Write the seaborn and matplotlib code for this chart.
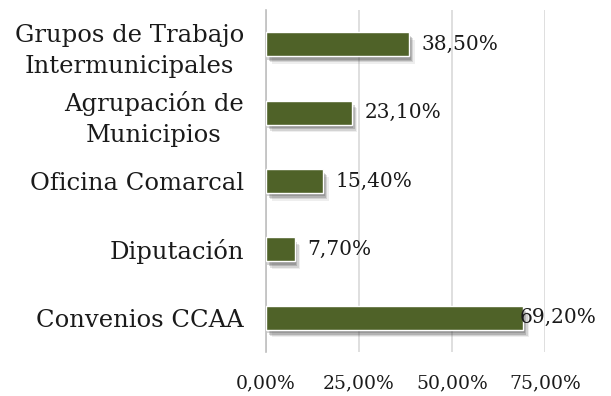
import matplotlib
matplotlib.use("Agg")
import matplotlib.pyplot as plt
import matplotlib.patheffects as pe
import seaborn as sns
import pandas as pd

categories = ["Grupos de Trabajo\nIntermunicipales", "Agrupación de\nMunicipios",
              "Oficina Comarcal", "Diputación", "Convenios CCAA"]
values = [38.5, 23.1, 15.4, 7.7, 69.2]
xticks = [0, 25, 50, 75]

df = pd.DataFrame({"cat": categories, "val": values})

sns.set_theme(style="white")
plt.rcParams["font.family"] = ["DejaVu Serif"]

W, H = 611, 396
fig = plt.figure(figsize=(W / 100, H / 100), dpi=100)
ax = fig.add_axes([266 / W, 1 - 352 / H, (545 - 266) / W, (352 - 10) / H])

sns.barplot(data=df, x="val", y="cat", orient="h", color="#4F6228",
            saturation=1, width=0.35, ax=ax, zorder=3)

# soft drop shadow under each bar
shadow = [pe.SimplePatchShadow(offset=(o, -o - 1.5), shadow_rgbFace="#303030", alpha=a)
          for o, a in [(4, 0.08), (3, 0.14), (2, 0.2), (1, 0.2)]]
for p in ax.patches:
    p.set_path_effects(shadow + [pe.Normal()])

def pct(v):
    return f"{v:.2f}%".replace(".", ",")

fig.canvas.draw()
renderer = fig.canvas.get_renderer()
for i, v in enumerate(values):
    t = ax.annotate(pct(v), xy=(v, i), xytext=(9, 0), textcoords="offset points",
                    va="center", ha="left", fontsize=14.5, color="#1a1a1a", zorder=5)
    bb = t.get_window_extent(renderer)
    if bb.x1 > W - 6:
        t.set_position((9 - (bb.x1 - (W - 6)) * 72 / 100, 0))

ax.set_xlim(0, 75)
ax.set_ylim(4.5, -0.5)
ax.set_xticks(xticks)
ax.set_xticklabels([pct(t) for t in xticks], fontsize=13.5, color="#1a1a1a")
ax.tick_params(axis="x", pad=16, length=0)
ax.tick_params(axis="y", length=0, pad=16, labelsize=17.5, labelcolor="#1a1a1a")
ax.set_xlabel("")
ax.set_ylabel("")
for lbl in ax.get_yticklabels():
    lbl.set_horizontalalignment("right")
    lbl.set_multialignment("center")
    lbl.set_linespacing(1.45)

ax.grid(axis="x", color="#d9d9d9", linewidth=1.2, zorder=0)
ax.grid(axis="y", visible=False)
for s in ["top", "right", "bottom"]:
    ax.spines[s].set_visible(False)
ax.spines["left"].set_color("#bfbfbf")
ax.spines["left"].set_linewidth(1.2)
ax.set_facecolor("white")

fig.savefig("out.png", dpi=100, facecolor="white")
